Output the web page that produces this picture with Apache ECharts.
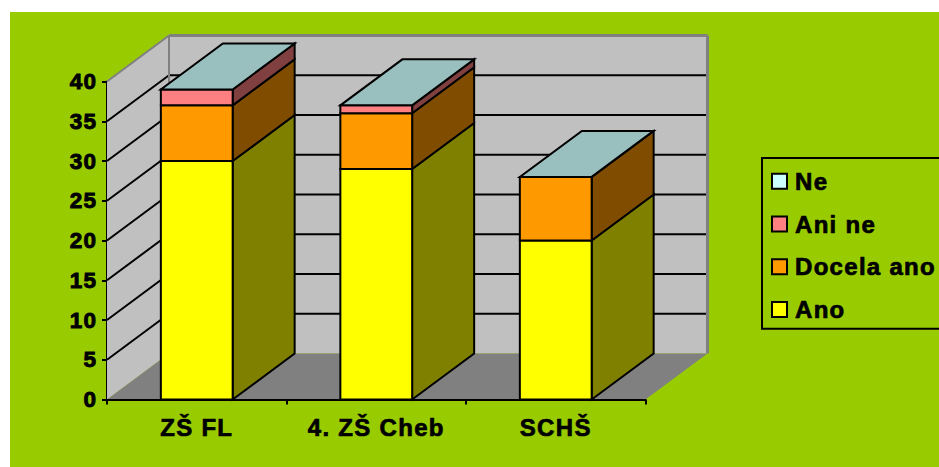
<!DOCTYPE html>
<html><head><meta charset="utf-8">
<style>html,body{margin:0;padding:0;background:#fff}#c{width:939px;height:467px}
#c text{letter-spacing:1.1px}
#c text[style*="24px"]{letter-spacing:1.3px}
</style>
<script src="https://cdn.jsdelivr.net/npm/echarts@6/dist/echarts.min.js"></script>
</head><body><div id="c"></div>
<script>
var categories = ['ZŠ FL', '4. ZŠ Cheb', 'SCHŠ'];
var ano = [30, 29, 20];
var docelaAno = [7, 7, 8];
var aniNe = [2, 1, 0];
var ne = [0, 0, 0];
var seriesNames = ['Ano', 'Docela ano', 'Ani ne', 'Ne'];
var yTicks = [0, 5, 10, 15, 20, 25, 30, 35, 40];

var values = [ano, docelaAno, aniNe, ne];
var front = ['#FFFF00', '#FF9900', '#FF8080', '#CCFFFF'];
var side = ['#808000', '#804D00', '#804040', '#668080'];
var topFace = '#99BFBF';
var DX = 62, DY = 46;
var FONT = '"Liberation Sans", Arial, sans-serif';

function poly(points, fill, stroke, w) {
  return {type: 'polygon', shape: {points: points},
    style: {fill: fill, stroke: stroke, lineWidth: w, lineJoin: 'miter'}};
}
function line(a, b, color, w) {
  return {type: 'line', shape: {x1: a[0], y1: a[1], x2: b[0], y2: b[1]},
    style: {stroke: color, lineWidth: w, fill: null}};
}
function renderWalls(params, api) {
  var band = api.size([1, 0])[0];
  var n = categories.length;
  var xL = api.coord([0, 0])[0] - band / 2;
  var xR = api.coord([n - 1, 0])[0] + band / 2;
  var y0 = api.coord([0, 0])[1];
  var yT = api.coord([0, yTicks[yTicks.length - 1]])[1];
  var kids = [
    poly([[xL, yT], [xL + DX, yT - DY], [xL + DX, y0 - DY], [xL, y0]], '#C0C0C0', null, 0),
    poly([[xL + DX, yT - DY], [xR + DX, yT - DY], [xR + DX, y0 - DY], [xL + DX, y0 - DY]], '#C0C0C0', null, 0),
    poly([[xL, y0], [xL + DX, y0 - DY], [xR + DX, y0 - DY], [xR, y0]], '#808080', null, 0)
  ];
  yTicks.forEach(function (t, i) {
    if (i === 0 || i === yTicks.length - 1) return;
    var y = api.coord([0, t])[1];
    kids.push(line([xL, y], [xL + DX, y - DY], '#000', 2));
    kids.push(line([xL + DX, y - DY], [xR + DX, y - DY], '#000', 2));
  });
  kids.push(line([xL, yT], [xL + DX, yT - DY], '#808080', 2));
  kids.push(line([xL + DX, yT - DY], [xR + DX, yT - DY], '#808080', 3));
  kids.push(line([xL + DX, yT - DY], [xL + DX, y0 - DY], '#808080', 2));
  kids.push(line([xR + DX, yT - DY], [xR + DX, y0 - DY], '#808080', 3));
  return {type: 'group', children: kids};
}
function renderSegment(s) {
  return function (params, api) {
    var i = api.value(0);
    var base = 0;
    for (var k = 0; k < s; k++) base += values[k][i];
    var v = values[s][i];
    var c0 = api.coord([i, base]), c1 = api.coord([i, base + v]);
    var w = api.size([1, 0])[0] * 0.4;
    var x0 = c0[0] - w / 2, x1 = c0[0] + w / 2, yb = c0[1], yt = c1[1];
    var kids = [];
    if (v > 0) {
      kids.push(poly([[x1, yb], [x1 + DX, yb - DY], [x1 + DX, yt - DY], [x1, yt]], side[s], '#000', 2));
      kids.push(poly([[x0, yb], [x1, yb], [x1, yt], [x0, yt]], front[s], '#000', 2));
    }
    if (s === values.length - 1) {
      kids.push(poly([[x0, yt], [x1, yt], [x1 + DX, yt - DY], [x0 + DX, yt - DY]], topFace, '#000', 2));
    }
    return {type: 'group', children: kids};
  };
}
var series = [{
  type: 'custom', name: 'walls', z: 1, silent: true, clip: false,
  renderItem: renderWalls, data: [[0]], encode: {x: 0, y: -1}
}];
seriesNames.forEach(function (name, s) {
  series.push({
    type: 'custom', name: name, z: 2 + s, clip: false, silent: true,
    renderItem: renderSegment(s),
    itemStyle: {color: front[s]},
    data: categories.map(function (c, i) { return [i, values[s][i]]; }),
    encode: {x: 0, y: 1}
  });
});
var chart = echarts.init(document.getElementById('c'), null, {renderer: 'svg'});
chart.setOption({
  animation: false,
  backgroundColor: '#fff',
  graphic: [{type: 'rect', z: -1, shape: {x: 10, y: 12, width: 929, height: 455}, style: {fill: '#99CC00'}}],
  grid: {left: 107, top: 81.5, width: 538.5, height: 318},
  xAxis: {
    type: 'category', data: categories,
    axisLine: {onZero: false, lineStyle: {color: '#000', width: 2}},
    axisTick: {show: true, length: 5, lineStyle: {color: '#000', width: 2}},
    axisLabel: {color: '#000', fontFamily: FONT, fontWeight: 'bold', fontSize: 24, margin: 16,
      textBorderColor: '#000', textBorderWidth: 0.7},
    z: 10
  },
  yAxis: {
    type: 'value', min: 0, max: 40, interval: 5,
    splitLine: {show: false},
    axisLine: {show: true, lineStyle: {color: '#000', width: 2}},
    axisTick: {show: true, length: 5, lineStyle: {color: '#000', width: 2}},
    axisLabel: {color: '#000', fontFamily: FONT, fontWeight: 'bold', fontSize: 22.5, margin: 10,
      padding: [3, 0, 0, 0], textBorderColor: '#000', textBorderWidth: 0.9},
    z: 0
  },
  legend: {
    left: 762, top: 158, orient: 'vertical', icon: 'rect', itemWidth: 15, itemHeight: 15, itemGap: 18,
    padding: [11, 40, 7, 9], backgroundColor: 'transparent', borderColor: '#000', borderWidth: 2,
    selectedMode: false,
    textStyle: {color: '#000', fontFamily: FONT, fontWeight: 'bold', fontSize: 24, padding: [0, 0, 0, 3],
      textBorderColor: '#000', textBorderWidth: 0.7},
    data: seriesNames.slice().reverse().map(function (n) {
      return {name: n, itemStyle: {color: front[seriesNames.indexOf(n)], borderColor: '#000', borderWidth: 2}};
    })
  },
  series: series
});
</script></body></html>
